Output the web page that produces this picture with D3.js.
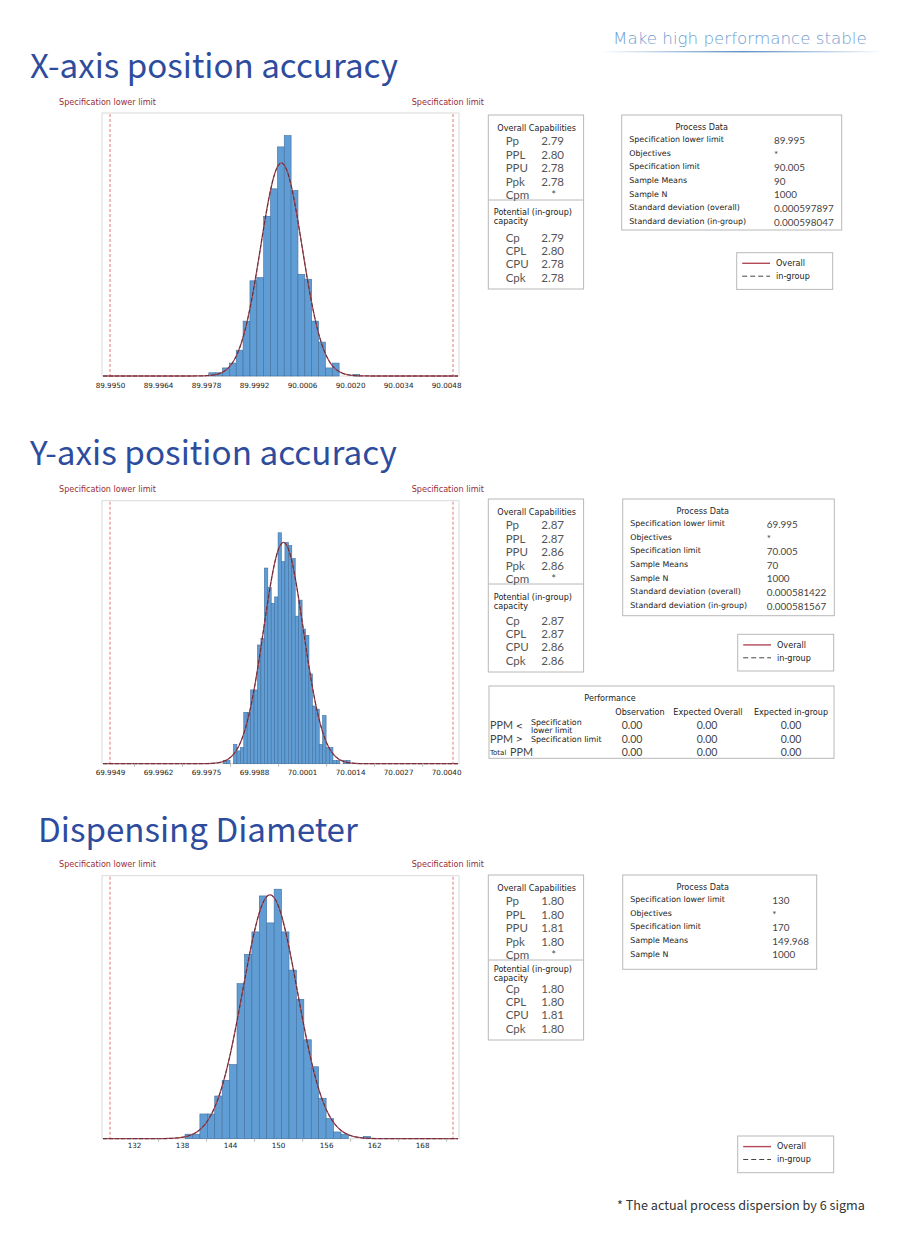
<!DOCTYPE html>
<html>
<head>
<meta charset="utf-8">
<script src="https://cdn.jsdelivr.net/npm/d3@7"></script>
<style>
body { margin: 0; background: #fff; }
</style>
</head>
<body>
<div class="canva"></div>
<script>
// ---- data ----
const slogan = "Make high performance stable";
const titles = ["X-axis position accuracy", "Y-axis position accuracy", "Dispensing Diameter"];
const footnote = "* The actual process dispersion by 6 sigma";

const specLower = [89.995, 69.995, 130];
const specUpper = [90.005, 70.005, 170];

// histogram bins: first edge, width, counts
const binStart = [89.99788, 69.9983, 138.75];
const binWidth = [0.0002, 0.0001, 0.866];
const countsX = [2, 2, 5, 8, 16, 34, 59, 61, 99, 116, 142, 149, 115, 63, 60, 34, 21, 5, 8, 0, 0, 1];
const countsY = [1, 1, 0, 6, 4, 5, 16, 16, 23, 23, 37, 39, 61, 55, 50, 52, 72, 63, 69, 68, 64, 46, 51, 42, 40, 28, 18, 17, 6, 15, 5, 5, 1, 1, 0, 1, 1];
const countsD = [2, 2, 11, 11, 19, 26, 33, 69, 82, 92, 108, 96, 111, 92, 75, 62, 44, 32, 18, 9, 3, 2, 0, 0, 1];
const yMax = [163, 82, 117];

// axis: where labels sit, what they say, and where the small marks are
const tickAtX = [89.995, 89.9964, 89.9978, 89.9992, 90.0006, 90.002, 90.0034, 90.0048];
const tickLabelsX = ["89.9950", "89.9964", "89.9978", "89.9992", "90.0006", "90.0020", "90.0034", "90.0048"];
const markAtX = [];
const tickAtY = [69.995, 69.9964, 69.9978, 69.9992, 70.0006, 70.002, 70.0034, 70.0048];
const tickLabelsY = ["69.9949", "69.9962", "69.9975", "69.9988", "70.0001", "70.0014", "70.0027", "70.0040"];
const markAtY = [69.9957, 69.9971, 69.9985, 69.9999, 70.0013, 70.0027, 70.0041];
const tickAtD = [132.8, 138.4, 144, 149.6, 155.2, 160.8, 166.4];
const tickLabelsD = ["132", "138", "144", "150", "156", "162", "168"];
const markAtD = [135.6, 141.2, 146.8, 152.4, 158, 163.6, 169.2];

const capNames = ["Pp", "PPL", "PPU", "Ppk", "Cpm"];
const capX = ["2.79", "2.80", "2.78", "2.78", "*"];
const capY = ["2.87", "2.87", "2.86", "2.86", "*"];
const capD = ["1.80", "1.80", "1.81", "1.80", "*"];
const potNames = ["Cp", "CPL", "CPU", "Cpk"];
const potX = ["2.79", "2.80", "2.78", "2.78"];
const potY = ["2.87", "2.87", "2.86", "2.86"];
const potD = ["1.80", "1.80", "1.81", "1.80"];

const procNames = ["Specification lower limit", "Objectives", "Specification limit", "Sample Means", "Sample N", "Standard deviation (overall)", "Standard deviation (in-group)"];
const procX = ["89.995", "*", "90.005", "90", "1000", "0.000597897", "0.000598047"];
const procY = ["69.995", "*", "70.005", "70", "1000", "0.000581422", "0.000581567"];
const procD = ["130", "*", "170", "149.968", "1000"];

const perfCols = ["Observation", "Expected Overall", "Expected in-group"];
const perfBelow = ["0.00", "0.00", "0.00"];
const perfAbove = ["0.00", "0.00", "0.00"];
const perfTotal = ["0.00", "0.00", "0.00"];

const counts = [countsX, countsY, countsD];
const tickAt = [tickAtX, tickAtY, tickAtD];
const tickLabels = [tickLabelsX, tickLabelsY, tickLabelsD];
const markAt = [markAtX, markAtY, markAtD];
const caps = [capX, capY, capD];
const pots = [potX, potY, potD];
const procs = [procX, procY, procD];

// ---- layout ----
const plotTop = [113, 500.7, 875.7];
const plotH = 263;
const labelPad = [7, 6.5, 4];
const titleY = [78, 465, 842];
const titleX = [30, 30, 38];
const titleW = [368, 367, 320];
const capTop = [115, 499, 875];
const capH = [174, 173, 165];
const potOff = [97, 98, 94];
const potRowOff = [122.5, 121.5, 113.5];
const procBox = [[621.7, 115, 220, 115], [622.7, 499, 211.6, 116.7], [622.7, 875, 194, 94.3]];
const procValX = [774, 766.7, 772.3];
const legendAt = [[736.7, 252.7], [737.7, 634.3], [737.7, 1136]];

const small = "DejaVu Sans";
const calib = "Lato";
const fs = 8.1;
const darkRed = "#9b2d35";
const boxStroke = "#b8b8b8";

const svg = d3.select(".canva").append("svg")
  .attr("width", 918)
  .attr("height", 1250)
  .style("display", "block");

function fitWidth(sel, w) {
  const len = sel.node().getComputedTextLength();
  const f = parseFloat(sel.attr("font-size"));
  sel.attr("font-size", f * w / len);
}

// header
const grad = svg.append("defs").append("linearGradient").attr("id", "fade");
grad.append("stop").attr("offset", "0%").attr("stop-color", "#5d8fc4").attr("stop-opacity", 0);
grad.append("stop").attr("offset", "50%").attr("stop-color", "#5d8fc4").attr("stop-opacity", 1);
grad.append("stop").attr("offset", "100%").attr("stop-color", "#5d8fc4").attr("stop-opacity", 0);
svg.append("rect")
  .attr("x", 600).attr("y", 51).attr("width", 285).attr("height", 1.4)
  .attr("fill", "url(#fade)");
const sl = svg.append("text")
  .text(slogan)
  .attr("x", 613).attr("y", 44)
  .attr("font-family", small).attr("font-weight", 200)
  .attr("font-size", 17)
  .attr("fill", "#6f9dcf");
fitWidth(sl, 254);

function drawPanel(i) {
  const top = plotTop[i], bottom = top + plotH;
  const x = d3.scaleLinear().domain([specLower[i], specUpper[i]]).range([110, 453]);
  const y = d3.scaleLinear().domain([0, yMax[i]]).range([bottom, top]);
  const g = svg.append("g");

  const t = g.append("text")
    .text(titles[i])
    .attr("x", titleX[i]).attr("y", titleY[i])
    .attr("font-family", "Noto Sans CJK SC")
    .attr("font-size", 36)
    .attr("fill", "#2e4c9e");
  fitWidth(t, titleW[i]);

  g.append("text").text("Specification lower limit")
    .attr("x", 59).attr("y", top - 8.5)
    .attr("font-family", small).attr("font-size", fs).attr("fill", darkRed);
  g.append("text").text("Specification limit")
    .attr("x", 484).attr("y", top - 8.5).attr("text-anchor", "end")
    .attr("font-family", small).attr("font-size", fs).attr("fill", darkRed);

  g.append("rect")
    .attr("x", 102).attr("y", top)
    .attr("width", 357).attr("height", plotH)
    .attr("fill", "#fff").attr("stroke", "#dadada");

  const bins = counts[i].map((c, k) => ({
    x0: binStart[i] + k * binWidth[i],
    x1: binStart[i] + (k + 1) * binWidth[i],
    n: c
  }));
  g.selectAll("rect.bar")
    .data(bins.filter(b => b.n > 0))
    .join("rect")
    .attr("class", "bar")
    .attr("x", d => x(d.x0))
    .attr("width", d => x(d.x1) - x(d.x0))
    .attr("y", d => y(d.n))
    .attr("height", d => y(0) - y(d.n))
    .attr("fill", "#5f9dd4")
    .attr("stroke", "#41709e")
    .attr("stroke-width", 0.6);

  // spec limits
  [specLower[i], specUpper[i]].forEach(v => {
    g.append("line")
      .attr("x1", x(v)).attr("x2", x(v))
      .attr("y1", top + 1).attr("y2", bottom)
      .attr("stroke", "#e06a6a").attr("stroke-width", 0.9)
      .attr("stroke-dasharray", "3,2");
  });

  // normal curve fitted to the histogram
  const n = d3.sum(bins, b => b.n);
  const mean = d3.sum(bins, b => b.n * (b.x0 + b.x1) / 2) / n;
  const sd = Math.sqrt(d3.sum(bins, b => b.n * ((b.x0 + b.x1) / 2 - mean) ** 2) / n);
  const grid = d3.range(0, 241).map(k => x.invert(103 + k * 355 / 240));
  const pts = grid.map(v => [v, n * binWidth[i] * Math.exp(-0.5 * ((v - mean) / sd) ** 2) / (sd * Math.sqrt(2 * Math.PI))]);
  const line = d3.line().x(d => x(d[0])).y(d => y(d[1])).curve(d3.curveBasis);
  g.append("path").datum(pts).attr("d", line)
    .attr("fill", "none").attr("stroke", "#b24858").attr("stroke-width", 1.3);
  g.append("path").datum(pts).attr("d", line)
    .attr("fill", "none").attr("stroke", "#3a2a30").attr("stroke-width", 0.8)
    .attr("stroke-dasharray", "4,2");

  // x axis
  const ax = g.append("g").attr("transform", `translate(0,${bottom})`)
    .call(d3.axisBottom(x).tickValues(tickAt[i]).tickFormat((d, k) => tickLabels[i][k]).tickSize(0).tickPadding(labelPad[i]));
  ax.select(".domain").remove();
  ax.selectAll("text").attr("font-family", small).attr("font-size", 7.2).attr("fill", "#222");
  const am = g.append("g").attr("transform", `translate(0,${bottom})`)
    .call(d3.axisBottom(x).tickValues(markAt[i]).tickFormat("").tickSize(3));
  am.select(".domain").remove();
  am.selectAll("line").attr("stroke", "#bbb");

  // overall capability box
  const cx = 488.3, ct = capTop[i];
  g.append("rect").attr("x", cx).attr("y", ct).attr("width", 95.3).attr("height", capH[i])
    .attr("fill", "none").attr("stroke", boxStroke);
  g.append("line").attr("x1", cx).attr("x2", cx + 95.3)
    .attr("y1", ct + 85).attr("y2", ct + 85).attr("stroke", boxStroke);
  g.append("text").text("Overall Capabilities")
    .attr("x", cx + 9).attr("y", ct + 13.3).attr("dy", "0.35em")
    .attr("font-family", small).attr("font-size", fs).attr("fill", "#222");
  g.selectAll("text.capn").data(capNames).join("text").attr("class", "capn")
    .text(d => d).attr("x", cx + 17.4).attr("y", (d, k) => ct + 26.3 + k * 13.4).attr("dy", "0.35em")
    .attr("font-family", calib).attr("font-size", 11.5).attr("fill", "#555");
  g.selectAll("text.capv").data(caps[i]).join("text").attr("class", "capv")
    .text(d => d).attr("x", d => d === "*" ? cx + 63 : cx + 53).attr("y", (d, k) => ct + 26.3 + k * 13.4).attr("dy", "0.35em")
    .attr("font-family", calib).attr("font-size", 11.5).attr("fill", "#555");
  g.append("text").text("Potential (in-group)")
    .attr("x", cx + 5.5).attr("y", ct + potOff[i]).attr("dy", "0.35em")
    .attr("font-family", small).attr("font-size", fs).attr("fill", "#222");
  g.append("text").text("capacity")
    .attr("x", cx + 5.5).attr("y", ct + potOff[i] + 9.5).attr("dy", "0.35em")
    .attr("font-family", small).attr("font-size", fs).attr("fill", "#222");
  g.selectAll("text.potn").data(potNames).join("text").attr("class", "potn")
    .text(d => d).attr("x", cx + 17.4).attr("y", (d, k) => ct + potRowOff[i] + k * 13.4).attr("dy", "0.35em")
    .attr("font-family", calib).attr("font-size", 11.5).attr("fill", "#555");
  g.selectAll("text.potv").data(pots[i]).join("text").attr("class", "potv")
    .text(d => d).attr("x", cx + 53).attr("y", (d, k) => ct + potRowOff[i] + k * 13.4).attr("dy", "0.35em")
    .attr("font-family", calib).attr("font-size", 11.5).attr("fill", "#555");

  // process data box
  const [px, pt, pw, ph] = procBox[i];
  g.append("rect").attr("x", px).attr("y", pt).attr("width", pw).attr("height", ph)
    .attr("fill", "none").attr("stroke", boxStroke);
  g.append("text").text("Process Data")
    .attr("x", px + 80).attr("y", pt + 12).attr("dy", "0.35em").attr("text-anchor", "middle")
    .attr("font-family", small).attr("font-size", fs).attr("fill", "#222");
  g.selectAll("text.procn").data(procNames.slice(0, procs[i].length)).join("text").attr("class", "procn")
    .text(d => d).attr("x", px + 7.6).attr("y", (d, k) => pt + 24.5 + k * 13.6).attr("dy", "0.35em")
    .attr("font-family", small).attr("font-size", 7.9).attr("fill", "#222");
  g.selectAll("text.procv").data(procs[i]).join("text").attr("class", "procv")
    .text(d => d).attr("x", procValX[i]).attr("y", (d, k) => pt + 25.5 + k * 13.6).attr("dy", "0.35em")
    .attr("font-family", calib).attr("font-size", 9.9).attr("fill", "#444");

  // legend
  const [lx, ly] = legendAt[i];
  g.append("rect").attr("x", lx).attr("y", ly).attr("width", 96).attr("height", 36.7)
    .attr("fill", "none").attr("stroke", boxStroke);
  g.append("line").attr("x1", lx + 5.5).attr("x2", lx + 33.3).attr("y1", ly + 10.6).attr("y2", ly + 10.6)
    .attr("stroke", "#b24858").attr("stroke-width", 1.4);
  g.append("line").attr("x1", lx + 5.5).attr("x2", lx + 33.3).attr("y1", ly + 23.5).attr("y2", ly + 23.5)
    .attr("stroke", "#444").attr("stroke-width", 1).attr("stroke-dasharray", "5,3");
  g.append("text").text("Overall").attr("x", lx + 39.3).attr("y", ly + 10.6).attr("dy", "0.35em")
    .attr("font-family", small).attr("font-size", fs).attr("fill", "#222");
  g.append("text").text("in-group").attr("x", lx + 39.3).attr("y", ly + 23.5).attr("dy", "0.35em")
    .attr("font-family", small).attr("font-size", fs).attr("fill", "#222");
}

[0, 1, 2].forEach(drawPanel);

// performance table (Y axis panel)
const pf = svg.append("g");
pf.append("rect").attr("x", 489).attr("y", 686).attr("width", 345).attr("height", 72.3)
  .attr("fill", "none").attr("stroke", boxStroke);
pf.append("text").text("Performance").attr("x", 610).attr("y", 698.3).attr("dy", "0.35em").attr("text-anchor", "middle")
  .attr("font-family", small).attr("font-size", fs).attr("fill", "#222");
const colX = d3.scaleOrdinal().domain(perfCols).range([640, 708, 791]);
const valX = d3.scaleOrdinal().domain(perfCols).range([632, 707, 791]);
pf.selectAll("text.ph").data(perfCols).join("text").attr("class", "ph")
  .text(d => d).attr("x", d => colX(d)).attr("y", 712.3).attr("dy", "0.35em").attr("text-anchor", "middle")
  .attr("font-family", small).attr("font-size", fs).attr("fill", "#222");
const perfRows = [perfBelow, perfAbove, perfTotal];
const rowY = [725.7, 739.3, 752.3];
perfRows.forEach((row, r) => {
  pf.selectAll("text.pv" + r).data(row).join("text").attr("class", "pv" + r)
    .text(d => d).attr("x", (d, k) => valX(perfCols[k])).attr("y", rowY[r]).attr("dy", "0.35em").attr("text-anchor", "middle")
    .attr("font-family", calib).attr("font-size", 10.5).attr("fill", "#444");
});
pf.append("text").text("PPM").attr("x", 490).attr("y", rowY[0]).attr("dy", "0.35em")
  .attr("font-family", calib).attr("font-size", 10.8).attr("fill", "#444");
pf.append("text").text("<").attr("x", 516).attr("y", rowY[0]).attr("dy", "0.35em")
  .attr("font-family", small).attr("font-size", 8).attr("fill", "#222");
pf.append("text").text("Specification").attr("x", 531).attr("y", 722).attr("dy", "0.35em")
  .attr("font-family", small).attr("font-size", 7.9).attr("fill", "#222");
pf.append("text").text("lower limit").attr("x", 531).attr("y", 729.8).attr("dy", "0.35em")
  .attr("font-family", small).attr("font-size", 7.9).attr("fill", "#222");
pf.append("text").text("PPM").attr("x", 490).attr("y", rowY[1]).attr("dy", "0.35em")
  .attr("font-family", calib).attr("font-size", 10.8).attr("fill", "#444");
pf.append("text").text(">").attr("x", 516).attr("y", rowY[1]).attr("dy", "0.35em")
  .attr("font-family", small).attr("font-size", 8).attr("fill", "#222");
pf.append("text").text("Specification limit").attr("x", 531).attr("y", rowY[1]).attr("dy", "0.35em")
  .attr("font-family", small).attr("font-size", 7.9).attr("fill", "#222");
pf.append("text").text("Total").attr("x", 490).attr("y", rowY[2]).attr("dy", "0.35em")
  .attr("font-family", small).attr("font-size", 7).attr("fill", "#222");
pf.append("text").text("PPM").attr("x", 510).attr("y", rowY[2]).attr("dy", "0.35em")
  .attr("font-family", calib).attr("font-size", 10.8).attr("fill", "#444");

// footnote
const fn = svg.append("text").text(footnote)
  .attr("x", 617).attr("y", 1209.5)
  .attr("font-family", "Noto Sans CJK SC").attr("font-size", 13)
  .attr("fill", "#333");
fitWidth(fn, 248);
</script>
</body>
</html>
